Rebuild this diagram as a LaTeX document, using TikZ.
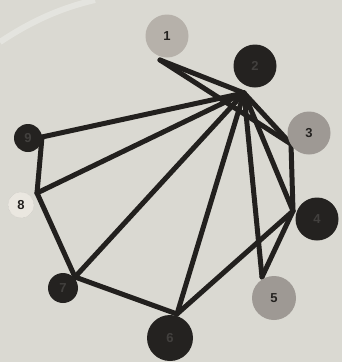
\documentclass[tikz,border=0pt]{standalone}
\usepackage{fontspec}
\setsansfont{Liberation Sans}
\definecolor{gbpaper}{RGB}{218,217,210}
\definecolor{gbglare}{RGB}{236,236,232}
\definecolor{gbdark}{RGB}{36,34,32}
\definecolor{gbdarktext}{RGB}{66,64,62}
\definecolor{gbmid}{RGB}{158,153,148}
\definecolor{gblight}{RGB}{182,177,170}
\definecolor{gbpale}{RGB}{234,231,224}
\definecolor{gbrod}{RGB}{34,32,30}
\tikzset{
  gbball/.style={circle, draw=none, inner sep=0pt, font=\sffamily\bfseries\fontsize{13}{13}\selectfont, text=gbdark},
  gbballdark/.style={gbball, fill=gbdark, text=gbdarktext},
  gbballmid/.style={gbball, fill=gbmid},
  gbballlight/.style={gbball, fill=gblight},
  gbballpale/.style={gbball, fill=gbpale, draw=gbmid!60, densely dotted, thin},
  gbrod/.style={line width=5pt, draw=gbrod, line cap=round}
}

\begin{document}
\begin{tikzpicture}[x=1pt, y=-1pt]
  \fill[gbpaper] (0,0) rectangle (342,362);
  \useasboundingbox (0,0) rectangle (342,362);
  \draw[gbglare, line width=6pt, opacity=.6] (0,42) .. controls (30,22) and (60,8) .. (95,0);
  % tie points of the rods
  \coordinate (t1) at (160,60);
  \coordinate (t2) at (244,93);
  \coordinate (t3) at (291,144);
  \coordinate (t4) at (293,211);
  \coordinate (t5) at (262,277);
  \coordinate (t6) at (177,314);
  \coordinate (t7) at (75,277);
  \coordinate (t8) at (37,193);
  \coordinate (t9) at (42,137);
  % rods
  \draw[gbrod] (t1) -- (t2);
  \draw[gbrod] (t1) -- (t3);
  \draw[gbrod] (t2) -- (t3);
  \draw[gbrod] (t2) -- (t9);
  \draw[gbrod] (t2) -- (t8);
  \draw[gbrod] (t2) -- (t7);
  \draw[gbrod] (t2) -- (t6);
  \draw[gbrod] (t2) -- (t5);
  \draw[gbrod] (t2) -- (t4);
  \draw[gbrod] (t3) -- (t4);
  \draw[gbrod] (t4) -- (t5);
  \draw[gbrod] (t4) -- (t6);
  \draw[gbrod] (t6) -- (t7);
  \draw[gbrod] (t7) -- (t8);
  \draw[gbrod] (t8) -- (t9);
  % balls
  \node[gbballlight, minimum size=43pt] (n1) at (167,36) {1};
  \node[gbballdark, minimum size=43pt] (n2) at (255,66) {2};
  \node[gbballmid, minimum size=43pt] (n3) at (309,133) {3};
  \node[gbballdark, minimum size=43pt] (n4) at (317,219) {4};
  \node[gbballmid, minimum size=44pt] (n5) at (274,298) {5};
  \node[gbballdark, minimum size=46pt] (n6) at (170,338) {6};
  \node[gbballdark, minimum size=30pt] (n7) at (63,288) {7};
  \node[gbballpale, minimum size=26pt] (n8) at (21,205) {8};
  \node[gbballdark, minimum size=28pt] (n9) at (28,138) {9};
\end{tikzpicture}
\end{document}
